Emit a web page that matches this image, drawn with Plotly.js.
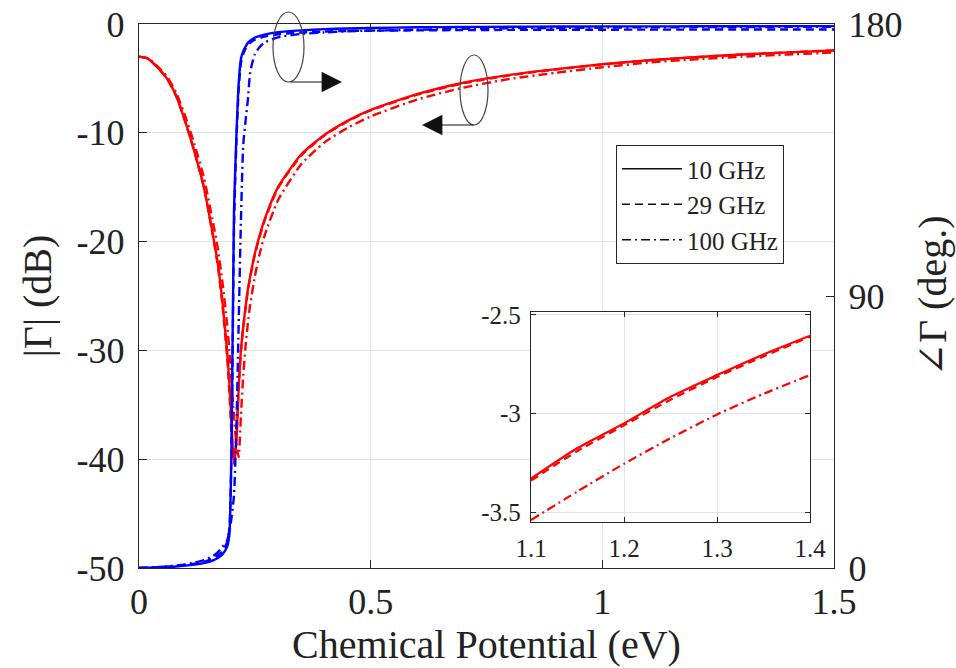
<!DOCTYPE html>
<html>
<head>
<meta charset="utf-8">
<script src="https://cdn.plot.ly/plotly-3.0.1.min.js"></script>
<style>html,body{margin:0;padding:0;background:#fff;}#chart{width:956px;height:668px;}</style>
</head>
<body>
<div id="chart"></div>
<script>
// Chemical potential (eV) sampling for the main plot
const mu = [0,0.02,0.04,0.06,0.08,0.1,0.12,0.14,0.16,0.17,0.18,0.19,0.195,0.2,0.205,0.21,0.215,0.22,0.225,0.23,0.235,0.24,0.25,0.26,0.27,0.3,0.35,0.4,0.45,0.5,0.6,0.7,0.8,0.9,1.0,1.1,1.2,1.3,1.4,1.5];

// |Gamma| (dB), left axis
const mag10  = [-3.0,-3.2,-4.0,-5.0,-6.6,-9.0,-11.8,-15.0,-19.5,-22.0,-25.5,-30.0,-33.0,-37.0,-40.5,-38.5,-33.6,-30.0,-27.8,-26.0,-24.4,-23.2,-21.1,-19.5,-18.1,-15.0,-12.0,-10.2,-8.9,-7.9,-6.45,-5.4,-4.68,-4.15,-3.7,-3.33,-3.05,-2.805,-2.605,-2.42];
const mag29  = [-3.0,-3.2,-4.0,-5.0,-6.6,-9.0,-11.8,-15.0,-19.6,-22.2,-25.8,-30.5,-33.8,-38.0,-40.0,-38.0,-33.4,-30.1,-27.9,-26.1,-24.5,-23.3,-21.2,-19.6,-18.2,-15.1,-12.1,-10.25,-8.95,-7.95,-6.5,-5.45,-4.72,-4.18,-3.72,-3.34,-3.06,-2.815,-2.61,-2.43];
const mag100 = [-3.0,-3.15,-3.9,-4.8,-6.3,-8.5,-11.1,-14.1,-18.3,-20.6,-23.7,-27.5,-30.0,-33.0,-36.0,-38.5,-39.8,-36.0,-32.3,-29.6,-27.5,-25.8,-23.2,-21.2,-19.6,-16.2,-12.9,-10.9,-9.55,-8.5,-6.95,-5.85,-5.05,-4.48,-3.98,-3.54,-3.255,-3.005,-2.805,-2.62];

// Phase of Gamma (deg.), right axis
const ph10  = [0,0.1,0.2,0.35,0.5,0.8,1.1,1.6,2.5,3.3,4.5,7.0,11.0,45.0,118.0,142.0,160.0,168.5,171.0,172.5,173.8,174.5,175.5,176.0,176.5,177.3,177.9,178.3,178.5,178.7,178.9,179.0,179.1,179.15,179.2,179.2,179.25,179.25,179.3,179.3];
const ph29  = [0,0.1,0.2,0.4,0.6,1.0,1.4,2.0,3.2,4.2,5.5,8.5,13.0,42.0,112.0,140.0,158.0,167.0,170.0,171.8,173.0,173.8,174.8,175.3,175.8,176.6,177.2,177.5,177.7,177.8,177.9,178.0,178.05,178.1,178.1,178.15,178.15,178.2,178.2,178.2];
const ph100 = [0,0.1,0.3,0.5,0.8,1.2,1.8,2.6,4.0,5.2,7.0,9.0,12.0,17.0,24.0,45.0,80.0,115.0,140.0,148.0,155.0,164.0,170.0,172.3,173.8,175.6,176.7,177.2,177.6,177.8,178.1,178.4,178.6,178.7,178.8,178.9,178.95,179.0,179.05,179.1];

// Inset (zoom of |Gamma| between 1.1 and 1.4 eV)
const muInset   = [1.1,1.15,1.2,1.25,1.3,1.35,1.4];
const inset10   = [-3.33,-3.175,-3.05,-2.915,-2.805,-2.70,-2.605];
const inset29   = [-3.34,-3.19,-3.06,-2.93,-2.815,-2.71,-2.61];
const inset100  = [-3.54,-3.395,-3.255,-3.125,-3.005,-2.90,-2.805];

// Legend labels and tick labels
const freqLabels = ['10 GHz','29 GHz','100 GHz'];
const xTickVals = [0,0.5,1,1.5];
const xTickText = ['0','0.5','1','1.5'];
const yTickVals = [-50,-40,-30,-20,-10,0];
const yTickText = ['-50','-40','-30','-20','-10','0'];
const phTickVals = [0,90,180];
const phTickText = ['0','90','180'];
const inXTickVals = [1.1,1.2,1.3,1.4];
const inXTickText = ['1.1','1.2','1.3','1.4'];
const inYTickVals = [-3.5,-3,-2.5];
const inYTickText = ['-3.5','-3','-2.5'];

const RED = '#ff0000', BLUE = '#0000ff', AX = '#262626', GRID = '#e3e3e3';
const FONT = 'Liberation Serif, Times New Roman, serif';
const DASH = ['solid', '8px,5px', '9px,4px,2px,4px'];
const LW = 2.4;

const traces = [];
[mag10, mag29, mag100].forEach((y, i) => traces.push({
  x: mu, y: y, xaxis: 'x', yaxis: 'y', type: 'scatter', mode: 'lines',
  line: {color: RED, width: LW, dash: DASH[i], shape: 'spline', smoothing: 0.6},
  showlegend: false, hoverinfo: 'skip'
}));
[ph10, ph29, ph100].forEach((y, i) => traces.push({
  x: mu, y: y, xaxis: 'x', yaxis: 'y3', type: 'scatter', mode: 'lines',
  line: {color: BLUE, width: LW, dash: DASH[i], shape: 'spline', smoothing: 0.6},
  showlegend: false, hoverinfo: 'skip'
}));
[inset10, inset29, inset100].forEach((y, i) => traces.push({
  x: muInset, y: y, xaxis: 'x2', yaxis: 'y2', type: 'scatter', mode: 'lines',
  line: {color: RED, width: 2.2, dash: DASH[i], shape: 'spline', smoothing: 0.6},
  showlegend: false, hoverinfo: 'skip'
}));
// legend entries (black line styles)
freqLabels.forEach((name, i) => traces.push({
  x: [null], y: [null], xaxis: 'x', yaxis: 'y', type: 'scatter', mode: 'lines',
  name: name, line: {color: '#111', width: 1.3, dash: DASH[i]}, showlegend: true
}));

const L = 139, R = 834, T = 24, B = 568;
const W = 956, H = 668;
const px = v => (v - L) / (R - L);
const py = v => (B - v) / (B - T);

const layout = {
  width: W, height: H,
  margin: {l: L, r: W - R, t: T, b: H - B, pad: 0},
  paper_bgcolor: '#fff', plot_bgcolor: '#fff',
  font: {family: FONT, color: '#222', size: 36},
  showlegend: true,
  legend: {
    x: px(616), y: py(145), xanchor: 'left', yanchor: 'top',
    bgcolor: '#fff', bordercolor: AX, borderwidth: 1,
    font: {family: FONT, size: 25, color: '#222'},
    itemwidth: 60, tracegroupgap: 0,
    entrywidth: 120, entrywidthmode: 'pixels'
  },
  xaxis: {
    domain: [0, 1], range: [0, 1.5], anchor: 'y',
    tickvals: xTickVals, ticktext: xTickText,
    ticks: 'inside', ticklen: 8, tickcolor: AX, tickwidth: 1,
    showline: true, linecolor: AX, linewidth: 1.2, mirror: 'ticks',
    showgrid: true, gridcolor: GRID, gridwidth: 1, zeroline: false,
    tickfont: {family: FONT, size: 36, color: '#222'},
    ticklabelstandoff: 2,
    title: {text: 'Chemical Potential (eV)', font: {family: FONT, size: 40, color: '#222'}, standoff: 6}
  },
  yaxis: {
    domain: [0, 1], range: [-50, 0], anchor: 'x',
    tickvals: yTickVals, ticktext: yTickText,
    ticks: 'inside', ticklen: 8, tickcolor: AX, tickwidth: 1,
    showline: true, linecolor: AX, linewidth: 1.2, mirror: false,
    showgrid: true, gridcolor: GRID, gridwidth: 1, zeroline: false,
    tickfont: {family: FONT, size: 36, color: '#222'},
    ticklabelstandoff: 6,
    title: {text: '|Γ| (dB)', font: {family: FONT, size: 40, color: '#222'}, standoff: 12}
  },
  yaxis3: {
    overlaying: 'y', side: 'right', anchor: 'x', range: [0, 180],
    tickvals: phTickVals, ticktext: phTickText,
    ticks: 'inside', ticklen: 8, tickcolor: AX, tickwidth: 1,
    showline: true, linecolor: AX, linewidth: 1.2,
    showgrid: false, zeroline: false,
    tickfont: {family: FONT, size: 36, color: '#222'},
    ticklabelstandoff: 6,
    title: {text: '<span style="font-family:DejaVu Serif">∠</span>Γ (deg.)', font: {family: FONT, size: 40, color: '#222'}, standoff: 16}
  },
  xaxis2: {
    domain: [px(531), px(810)], range: [1.1, 1.4], anchor: 'y2',
    tickvals: inXTickVals, ticktext: inXTickText,
    ticks: 'inside', ticklen: 5, tickcolor: AX, tickwidth: 1,
    showline: true, linecolor: AX, linewidth: 1.2, mirror: 'ticks',
    showgrid: true, gridcolor: GRID, gridwidth: 1, zeroline: false,
    tickfont: {family: FONT, size: 25, color: '#222'},
    ticklabelstandoff: 4
  },
  yaxis2: {
    domain: [py(522), py(312)], range: [-3.55, -2.485], anchor: 'x2',
    tickvals: inYTickVals, ticktext: inYTickText,
    ticks: 'inside', ticklen: 5, tickcolor: AX, tickwidth: 1,
    showline: true, linecolor: AX, linewidth: 1.2, mirror: 'ticks',
    showgrid: true, gridcolor: GRID, gridwidth: 1, zeroline: false,
    tickfont: {family: FONT, size: 25, color: '#222'},
    ticklabelstandoff: 4
  },
  shapes: [
    {type: 'circle', xref: 'paper', yref: 'paper', x0: px(273), x1: px(304), y0: py(82), y1: py(12),
     line: {color: '#444', width: 1.2}, fillcolor: 'rgba(0,0,0,0)', layer: 'above'},
    {type: 'circle', xref: 'paper', yref: 'paper', x0: px(460), x1: px(488), y0: py(125), y1: py(55),
     line: {color: '#444', width: 1.2}, fillcolor: 'rgba(0,0,0,0)', layer: 'above'}
  ],
  annotations: [
    {xref: 'paper', yref: 'paper', x: px(342), y: py(82), ax: -53, ay: 0, text: '',
     showarrow: true, arrowhead: 2, arrowsize: 3.4, arrowwidth: 1.2, arrowcolor: '#111'},
    {xref: 'paper', yref: 'paper', x: px(422), y: py(125), ax: 53, ay: 0, text: '',
     showarrow: true, arrowhead: 2, arrowsize: 3.4, arrowwidth: 1.2, arrowcolor: '#111'}
  ]
};

Plotly.newPlot('chart', traces, layout, {staticPlot: true, displayModeBar: false});
</script>
</body>
</html>
